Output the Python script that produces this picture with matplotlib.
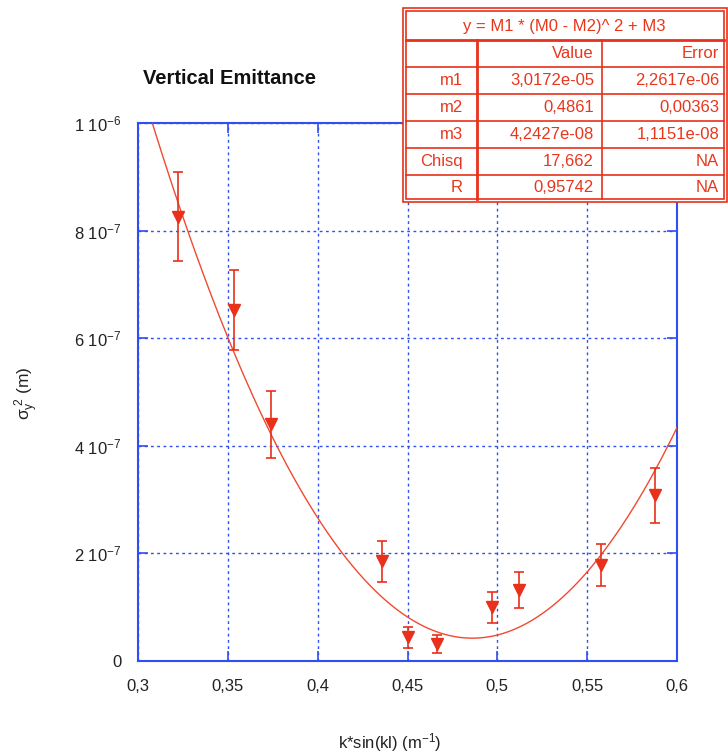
import matplotlib
matplotlib.use("Agg")
import matplotlib.pyplot as plt
import numpy as np
from matplotlib.lines import Line2D
from matplotlib.patches import Rectangle

plt.rcParams['font.family'] = ['Liberation Sans', 'DejaVu Sans']
plt.rcParams['mathtext.fontset'] = 'custom'
plt.rcParams['mathtext.rm'] = 'Liberation Sans'
plt.rcParams['mathtext.it'] = 'Liberation Sans:italic'
plt.rcParams['mathtext.default'] = 'regular'

# ---- data ----
x_data = [0.3223, 0.3534, 0.3740, 0.4358, 0.4503, 0.4664, 0.4970, 0.5120, 0.5577, 0.5877]
y_data = [8.26e-7, 6.52e-7, 4.40e-7, 1.85e-7, 0.44e-7, 0.32e-7, 1.00e-7, 1.32e-7, 1.78e-7, 3.08e-7]
y_err = [0.83e-7, 0.74e-7, 0.62e-7, 0.38e-7, 0.20e-7, 0.17e-7, 0.29e-7, 0.33e-7, 0.39e-7, 0.51e-7]

# fit parameters (from table)
m1 = 3.0172e-05
m2 = 0.4861
m3 = 4.2427e-08

x_ticks = [0.3, 0.35, 0.4, 0.45, 0.5, 0.55, 0.6]
x_ticklabels = ['0,3', '0,35', '0,4', '0,45', '0,5', '0,55', '0,6']
y_ticks = [0, 2e-7, 4e-7, 6e-7, 8e-7, 1e-6]
y_ticklabels = ['0', r'$2\ 10^{-7}$', r'$4\ 10^{-7}$', r'$6\ 10^{-7}$', r'$8\ 10^{-7}$', r'$1\ 10^{-6}$']

table_title = 'y = M1 * (M0 - M2)^ 2 + M3'
table_header = ['', 'Value', 'Error']
table_rows = ['m1', 'm2', 'm3', 'Chisq', 'R']
table_values = ['3,0172e-05', '0,4861', '4,2427e-08', '17,662', '0,95742']
table_errors = ['2,2617e-06', '0,00363', '1,1151e-08', 'NA', 'NA']

RED = '#e8301a'
CURVE = '#f04a30'
BLUE = '#2f4ff0'

W, H = 728, 755
fig = plt.figure(figsize=(W / 100, H / 100), dpi=100)
ax = fig.add_axes([138 / W, 1 - 661 / H, (677 - 138) / W, (661 - 123) / H])

# fit curve
xc = np.linspace(0.3, 0.6, 400)
yc = m1 * (xc - m2) ** 2 + m3
ax.plot(xc, yc, color=CURVE, lw=1.0, zorder=3)

ax.errorbar(x_data, y_data, yerr=y_err, fmt='v', color=RED, ms=8,
            ecolor=RED, elinewidth=1.2, capsize=3.5, capthick=1.2, zorder=4)

ax.set_xlim(0.3, 0.6)
ax.set_ylim(0, 1e-6)
ax.set_xticks(x_ticks)
ax.set_xticklabels(x_ticklabels)
ax.set_yticks(y_ticks)
ax.set_yticklabels(y_ticklabels)
ax.tick_params(axis='both', direction='in', length=7, width=1.2, color=BLUE,
               labelsize=12, labelcolor='#222222', top=True, right=True)
ax.tick_params(axis='x', pad=13)
ax.tick_params(axis='y', pad=12)
ax.grid(True, color=BLUE, linestyle=(0, (2, 2.5)), linewidth=1.0)
for s in ax.spines.values():
    s.set_color(BLUE)
    s.set_linewidth(1.5)

fig.text(143 / W, 1 - 78 / H, 'Vertical Emittance', fontsize=14.5, fontweight='bold',
         ha='left', va='center', color='#111111')
fig.text(390 / W, 1 - 743 / H, r'k*sin(kl) (m$^{-1}$)', fontsize=12, ha='center',
         va='center', color='#222222')
fig.text(27 / W, 1 - 393 / H, r'$\sigma_y^{\ 2}$ (m)', fontsize=12.5, rotation=90,
         ha='center', va='center', color='#222222')

# ---- table ----
def fx(px):
    return px / W

def fy(py):
    return 1 - py / H

L, R, T, B = 403, 727, 8, 202
fig.add_artist(Rectangle((fx(L), fy(B)), fx(R) - fx(L), fy(T) - fy(B),
                         facecolor='white', edgecolor=RED, lw=1.2, zorder=10,
                         transform=fig.transFigure))
Li, Ri, Ti, Bi = 406, 724, 11, 199
fig.add_artist(Rectangle((fx(Li), fy(Bi)), fx(Ri) - fx(Li), fy(Ti) - fy(Bi),
                         facecolor='none', edgecolor=RED, lw=1.2, zorder=11,
                         transform=fig.transFigure))
row_lines = [40, 67, 94, 121, 148, 175]
for i, ry in enumerate(row_lines):
    fig.add_artist(Line2D([fx(Li), fx(Ri)], [fy(ry), fy(ry)], color=RED,
                          lw=2.0 if i == 0 else 1.2, zorder=11))
for cx in [477, 602]:
    fig.add_artist(Line2D([fx(cx), fx(cx)], [fy(40), fy(Bi)], color=RED,
                          lw=2.0 if cx == 477 else 1.2, zorder=11))

tcol = '#e8361c'
fs = 12
fig.text(fx(564), fy(26), table_title, fontsize=fs, ha='center',
         va='center', color=tcol, zorder=12)
row_centers = [53.5, 80.5, 107.5, 134.5, 161.5, 188]
fig.text(fx(594), fy(row_centers[0]), table_header[1], fontsize=fs, ha='right',
         va='center', color=tcol, zorder=12)
fig.text(fx(719), fy(row_centers[0]), table_header[2], fontsize=fs, ha='right',
         va='center', color=tcol, zorder=12)
for i, (rn, v, e) in enumerate(zip(table_rows, table_values, table_errors)):
    yc_ = fy(row_centers[i + 1])
    fig.text(fx(463), yc_, rn, fontsize=fs, ha='right', va='center', color=tcol, zorder=12)
    fig.text(fx(594), yc_, v, fontsize=fs, ha='right', va='center', color=tcol, zorder=12)
    fig.text(fx(719), yc_, e, fontsize=fs, ha='right', va='center', color=tcol, zorder=12)

fig.savefig('out.png', dpi=100)
